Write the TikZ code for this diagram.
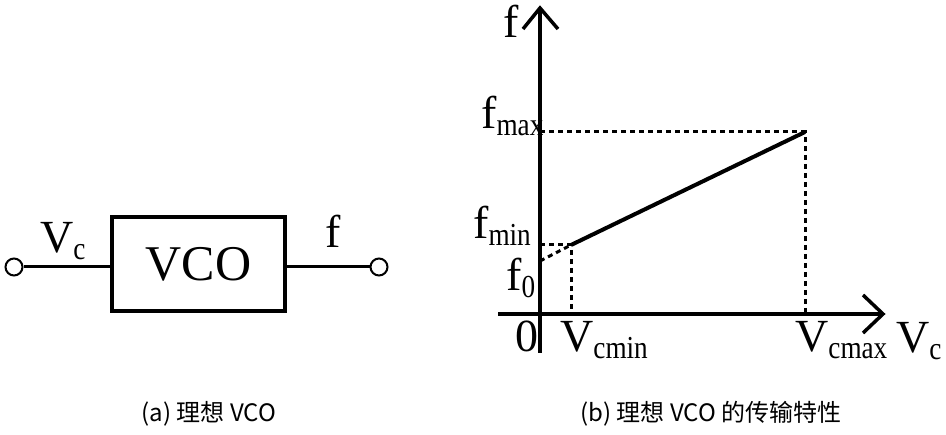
\documentclass[tikz,border=0pt]{standalone}
\usepackage{fontspec}
\setmainfont{Liberation Serif}
\newfontfamily\subfont[FakeStretch=0.85]{Liberation Serif}
\newfontfamily\cjk{Noto Sans CJK SC}
\newcommand\sbx[1]{\raisebox{-7pt}{\subfont\fontsize{32}{32}\selectfont #1}}
\begin{document}
\begin{tikzpicture}[x=1pt,y=-1pt,
  lbl/.style={inner sep=0pt, anchor=base west, font=\fontsize{46}{46}\selectfont},
  wire/.style={line width=3pt},
  axis/.style={line width=3.5pt},
  guide/.style={line width=3pt, dash pattern=on 5pt off 4pt},
  term/.style={circle, draw, line width=2pt, minimum size=17pt, inner sep=0pt},
  capt/.style={font=\cjk\fontsize{24}{24}\selectfont, inner sep=0pt}]
\useasboundingbox (0,0) rectangle (946,435);
% (a) ideal VCO block
\node[draw, line width=4pt, minimum width=173pt, minimum height=94pt, inner sep=0pt,
      font=\fontsize{50}{50}\selectfont] (vco) at (198.5,264) {VCO};
\node[term] (tin) at (14,267) {};
\node[term] (tout) at (379,267) {};
\draw[wire] (tin.east) -- (tin.east -| vco.west);
\draw[wire] (vco.east |- tout.west) -- (tout.west);
\node[lbl] (lvc) at (40,253) {V\sbx{c}};
\node[lbl] (lf) at (325,248) {f};
% (b) transfer characteristic
\coordinate (O) at (540,314);
\coordinate (ytop) at (540,8);
\coordinate (ybot) at (540,353);
\coordinate (ya1) at (523,29);
\coordinate (ya2) at (558,29);
\coordinate (xl) at (498,314);
\coordinate (xr) at (883,314);
\coordinate (xa1) at (863,295);
\coordinate (xa2) at (863,333);
\coordinate (P1) at (571,245);
\coordinate (P2) at (805,132);
\coordinate (F0) at (540,261);
\draw[axis] (ybot) -- (ytop);
\draw[axis] (xl) -- (xr);
\draw[axis, line join=miter] (ya1) -- (ytop) -- (ya2);
\draw[axis, line join=miter] (xa1) -- (xr) -- (xa2);
\draw[line width=4pt] (P1) -- (P2);
\draw[guide] (P2 -| O) -- (P2) -- (P2 |- O);
\draw[guide] (P1 -| O) -- (P1) -- (P1 |- O);
\draw[guide] (F0) -- (P1);
\node[lbl] (lfy) at (503,38) {f};
\node[lbl] (lfmax) at (481,129) {f\sbx{max}};
\node[lbl] (lfmin) at (473,239) {f\sbx{min}};
\node[lbl] (lf0) at (506,291) {f\sbx{0}};
\node[lbl] (lzero) at (515,352) {0};
\node[lbl] (lvcmin) at (560,352) {V\sbx{cmin}};
\node[lbl] (lvcmax) at (795,352) {V\sbx{cmax}};
\node[lbl] (lvcx) at (896,353) {V\sbx{c}};
% captions
\node[capt] (capa) at (209,414) {(a) 理想 VCO};
\node[capt] (capb) at (711,414) {(b) 理想 VCO 的传输特性};
\end{tikzpicture}
\end{document}
